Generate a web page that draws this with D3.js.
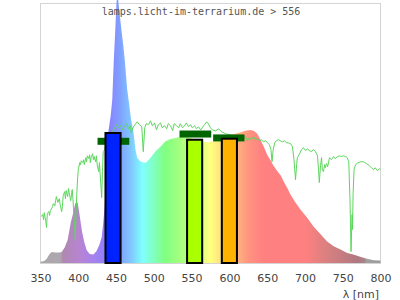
<!DOCTYPE html>
<html>
<head>
<meta charset="UTF-8">
<title>lamps.licht-im-terrarium.de &gt; 556</title>
<style>
  body { margin: 0; background: #fff; }
  svg { display: block; }
  .tick text { font-family: "DejaVu Sans", sans-serif; font-size: 11px; fill: #444; }
</style>
</head>
<body>
<svg id="chart"></svg>
<script src="https://d3js.org/d3.v7.min.js"></script>
<script>
// spectrum of the lamp (relative units)
var specL = [350,355,358,362,365,370,375,378,382,386,390,393,396,399,402,405,408,411,415,420,424,428,431,433,435,
  438,440,443,445,447,449,450.5,452,454,457,459.5,461.6,464.7,466.5,470,473,475.7,478,482,486,490,495.6,502,509,515,
  522,529,535,545,555,565,572,580,590,600,610,616,621,628,632,637,641,645,650,654,658,664,668,672,677,681,687,694,
  703,711,721,729,738,747,756,764,773,782,791,800];
var specV = [0.5,0.8,1.5,3.5,4.2,4.0,4.0,4.2,6,9,15.5,19,23,23.5,18,12,8,5,3.5,3.3,4.5,7,10,15.5,22,
  40,51,57,63,78,90,100,104,98,90,84,78,67,63,55,50.7,43.7,40.6,39.2,38.7,38.7,40.6,43,44.9,46.8,
  47.8,48.2,48.7,48.5,47.5,46.7,46.5,47,48,49,50,50.5,51,51.3,51,49.8,47.5,45.2,41.7,39.8,37.7,35.2,33.7,31.3,28.7,26.3,23.5,20.6,
  17.4,14.2,11,8.4,6.5,5.2,3.9,3.3,2.4,1.6,1.1,1.0];

// daylight reference curve
var sunL = [351,353,354,355,357,358,359,361,362,363,366,367,369,370,371,373,374,375,376,378,379,380,382,383,384,386,387,388,
  390,391,392,393,395,396,396.5,398,399,400,402,403,404,406,407,408,410,411,412,414,415,416,417,419,420,421,423,424,425,427,
  428,429,431,432,433,435,437,443,446.6,450.6,453,456,458.5,461,464,466.5,469,470,473,476,478,481,484,486,488,490,493,495.6,
  498,501,503.5,506,509,511,514,517,519,522,525,527,530,533,535,538,540.6,543,546,548.5,551,554,556.5,559,562,564,567,570,
  572,575,577.6,581.6,585.6,589.6,595,601,608,614.7,618.7,621,624,626.6,629,632,634.6,637,640,642.5,645,648,650.4,653,655,
  656.4,658,660,662,665,667.6,670,673,675.6,678,681,683.5,685.5,687.5,689,690,693,695.4,698,701,703,706,708.7,711,714,716.6,
  718,719,720.6,722,723,724.6,726,727,728.5,730,732.5,735,738,740,743,745.7,748,751,753.7,756,758,759.6,761,762.4,763,763.7,
  765,767,769.6,773.5,777.5,781.5,785.4,788,790.7,793,796,798.7,800];
var sunV = [17.9,18.7,16.7,19.4,16,13.7,19,19.8,18.3,20.2,21.7,22.9,22,24,25.6,23.3,24.4,24.8,22.5,19.8,21.7,26,27.5,24.8,27.9,25.6,28.7,27.1,
  24,26.3,28.3,24.4,14.8,8.7,14.8,26.3,32,36,38.7,37.9,39.4,38.7,39.8,37.9,40.6,39,41.3,40.2,41.7,38.7,40.6,42.1,39.8,41,39,41.3,37.9,35.2,
  38.7,34,25.2,35.2,42.9,43.7,47.5,49.4,51.3,53.3,52.1,52.9,51.3,52.5,53.7,51.7,52.9,50.2,52.5,53.7,54.4,53.3,52.5,42.9,52.1,53.7,53.3,54.8,
  52.9,54,51.3,53.3,54,52.1,52.9,51.7,53.7,52.9,51,53.7,52.9,52.1,53.7,52.1,52.9,54,52.5,53.3,52.1,52.9,51.7,52.5,51.3,52.1,53.3,54.4,
  53.7,52.1,51.3,50.9,51.7,50.6,49.8,49.4,49,48.7,48.3,48.7,47.1,48.3,47.5,48.7,47.5,47.9,47.1,47.5,46.7,47.1,46.3,45.6,43.7,
  39,43.7,46.3,47.1,47.5,47.1,46.7,47.1,46.3,46.3,46,44.8,39.8,32.1,37.9,40.6,42.1,43.7,44.4,43.3,44,43.3,42.9,43.7,42.9,41.3,
  35.9,31,37.5,40.6,35.9,35.2,37.9,36.7,38.3,37.1,40.6,39.8,41,40.2,41,41.3,41,41.3,41,40.6,39,24.4,4.4,18.7,12.9,26.3,
  36,37.9,38.5,39,39,38.3,37.5,36.7,36,36.7,35.6,36.3,36];

// sensor bands: measured value and reference marker
var bandLo = [436, 544, 590];
var bandHi = [456, 564, 610];
var bandVal = [50.1, 47.5, 47.9];
var bandColor = ["#0022ff", "#aaff00", "#ffb300"];
var markLo = [425.5, 534, 578.5];
var markHi = [467.5, 576, 620];
var markVal = [46.9, 49.7, 48.2];

var xTicks = [350, 400, 450, 500, 550, 600, 650, 700, 750, 800];

// colour of the spectrum fill along the wavelength
var specColors = [
  [350, "#aaa8ac"], [376, "#aea6ae"], [380, "#b088b0"], [400, "#b884d0"], [420, "#a682ee"],
  [440, "#8a80ff"], [455, "#80a0ff"], [470, "#80c8ff"], [485, "#80ffff"], [500, "#80ffc0"],
  [515, "#80ff80"], [540, "#b0ff80"], [560, "#d8ff80"], [575, "#ffff80"], [590, "#ffe080"],
  [605, "#ffc080"], [625, "#ff9480"], [645, "#ff8080"], [700, "#ff8080"], [730, "#d88080"],
  [770, "#b07880"], [779, "#a88488"], [781, "#a0a0a0"], [800, "#9c9c9c"]
];

var W = 400, H = 300;
var svg = d3.select("#chart").attr("width", W).attr("height", H);

var x = d3.scaleLinear().domain([350, 800]).range([40.5, 380.5]);
var y = d3.scaleLinear().domain([0, 100]).range([263, 3.5]);

// frame
svg.append("rect")
  .attr("x", 40.5).attr("y", 3.5)
  .attr("width", 340).attr("height", 260)
  .attr("fill", "none").attr("stroke", "#d4d4d4");

// gradient
var grad = svg.append("defs").append("linearGradient")
  .attr("id", "spec").attr("gradientUnits", "userSpaceOnUse")
  .attr("x1", x(350)).attr("x2", x(800)).attr("y1", 0).attr("y2", 0);
grad.selectAll("stop").data(specColors).enter().append("stop")
  .attr("offset", function(d) { return (d[0] - 350) / 450; })
  .attr("stop-color", function(d) { return d[1]; });

var spec = specL.map(function(l, i) { return [l, specV[i]]; });
svg.append("path")
  .datum(spec)
  .attr("fill", "url(#spec)")
  .attr("d", d3.area()
    .x(function(d) { return x(d[0]); })
    .y0(y(0))
    .y1(function(d) { return y(d[1]); }));

var sun = sunL.map(function(l, i) { return [l, sunV[i]]; });
svg.append("path")
  .datum(sun)
  .attr("fill", "none")
  .attr("stroke", "#5cd65c")
  .attr("stroke-width", 1)
  .attr("d", d3.line()
    .x(function(d) { return x(d[0]); })
    .y(function(d) { return y(d[1]); }));

// reference markers
svg.selectAll(".mark").data(markVal).enter().append("rect")
  .attr("class", "mark")
  .attr("x", function(d, i) { return x(markLo[i]); })
  .attr("width", function(d, i) { return x(markHi[i]) - x(markLo[i]); })
  .attr("y", function(d) { return y(d) - 3.5; })
  .attr("height", 7)
  .attr("fill", "#006400");

// bars
svg.selectAll(".bar").data(bandVal).enter().append("rect")
  .attr("class", "bar")
  .attr("x", function(d, i) { return x(bandLo[i]); })
  .attr("width", function(d, i) { return x(bandHi[i]) - x(bandLo[i]); })
  .attr("y", function(d) { return y(d); })
  .attr("height", function(d) { return y(0) - y(d); })
  .attr("fill", function(d, i) { return bandColor[i]; })
  .attr("stroke", "#000")
  .attr("stroke-width", 2);

// x axis labels
var ax = svg.append("g")
  .attr("transform", "translate(0," + y(0) + ")")
  .call(d3.axisBottom(x).tickValues(xTicks).tickSize(0).tickPadding(11).tickFormat(d3.format("d")));
ax.select(".domain").remove();

svg.append("text")
  .attr("x", 379).attr("y", 298)
  .attr("text-anchor", "end")
  .style("font-family", "DejaVu Sans, sans-serif")
  .style("font-size", "11px")
  .attr("fill", "#444")
  .text("λ [nm]");

// title
svg.append("text")
  .attr("x", 201).attr("y", 15)
  .attr("text-anchor", "middle")
  .style("font-family", "DejaVu Sans Mono, monospace")
  .style("font-size", "10px")
  .attr("fill", "#555")
  .text("lamps.licht-im-terrarium.de > 556");
</script>
</body>
</html>
